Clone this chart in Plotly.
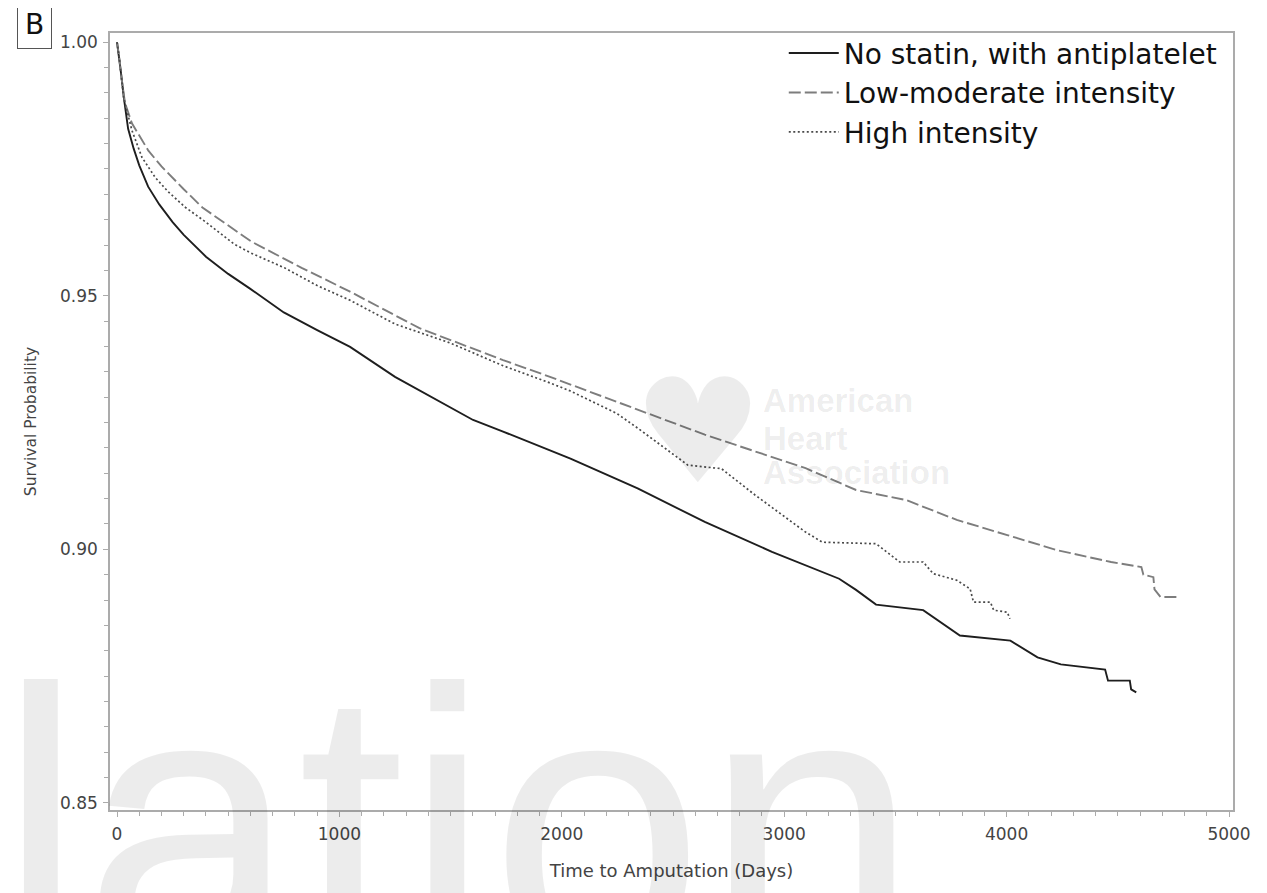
import plotly.graph_objects as go

# ---- data (days, survival probability) ----
no_statin_days = [0, 5, 10, 20, 30, 50, 75, 100, 140, 190, 250, 300, 400, 500, 598, 750, 900,
                  1048, 1250, 1497, 1601, 1736, 2039, 2341, 2643, 2945, 3247, 3323, 3413, 3625,
                  3790, 4017, 4139, 4244, 4443, 4456, 4554, 4560, 4583]
no_statin_surv = [1.0, 0.9985, 0.9972, 0.9932, 0.9893, 0.9829, 0.979, 0.9757, 0.9715, 0.968,
                  0.9645, 0.962, 0.9577, 0.9543, 0.9514, 0.9467, 0.9432, 0.9399, 0.934, 0.9281,
                  0.9255, 0.9232, 0.9179, 0.912, 0.9054, 0.8995, 0.8942, 0.892, 0.8891, 0.888,
                  0.883, 0.882, 0.8787, 0.8773, 0.8763, 0.8741, 0.8741, 0.8724, 0.8718]

lowmod_days = [0, 5, 10, 20, 36, 67, 100, 141, 200, 248, 300, 384, 500, 603, 830, 1048, 1360,
               1497, 1736, 1947, 2189, 2397, 2643, 3096, 3323, 3549, 3776, 4003, 4229, 4470,
               4606, 4615, 4660, 4665, 4692, 4773]
lowmod_surv = [1.0, 0.9986, 0.997, 0.993, 0.988, 0.984, 0.9815, 0.9786, 0.9755, 0.9733, 0.971,
               0.9674, 0.9638, 0.9607, 0.9555, 0.9508, 0.9436, 0.9413, 0.9373, 0.934, 0.93,
               0.9266, 0.9226, 0.916, 0.9117, 0.9097, 0.9058, 0.9028, 0.8998, 0.8975, 0.8965,
               0.895, 0.8945, 0.8921, 0.8906, 0.8906]

high_days = [0, 5, 10, 20, 30, 67, 112, 172, 230, 308, 400, 526, 598, 753, 900, 1048, 1251, 1497,
             1736, 1947, 2039, 2247, 2341, 2567, 2718, 2869, 3096, 3172, 3413, 3519, 3625, 3670,
             3776, 3836, 3851, 3927, 3942, 4003, 4015]
high_surv = [1.0, 0.9986, 0.997, 0.993, 0.989, 0.9826, 0.9773, 0.9733, 0.9705, 0.9674, 0.9645,
             0.9602, 0.9585, 0.9555, 0.952, 0.9491, 0.9444, 0.9407, 0.9362, 0.9328, 0.9312,
             0.9268, 0.9239, 0.9166, 0.9159, 0.9107, 0.9034, 0.9014, 0.9011, 0.8975, 0.8975,
             0.8952, 0.8939, 0.8922, 0.8896, 0.8896, 0.888, 0.8876, 0.8863]

series_names = ["No statin, with antiplatelet", "Low-moderate intensity", "High intensity"]
x_ticks = [0, 1000, 2000, 3000, 4000, 5000]
y_ticks = [0.85, 0.90, 0.95, 1.00]

FONT = "DejaVu Sans"
AXIS_GRAY = "#ababab"
WM = "rgba(0,0,0,0.075)"

fig = go.Figure()
fig.add_trace(go.Scatter(x=no_statin_days, y=no_statin_surv, mode="lines", name=series_names[0],
                         line=dict(color="#1e1e1e", width=1.9)))
fig.add_trace(go.Scatter(x=lowmod_days, y=lowmod_surv, mode="lines", name=series_names[1],
                         line=dict(color="#7d7d7d", width=1.9, dash="12px,4px")))
fig.add_trace(go.Scatter(x=high_days, y=high_surv, mode="lines", name=series_names[2],
                         line=dict(color="#4a4a4a", width=1.7, dash="2px,2.5px")))

axis_common = dict(showline=True, linecolor=AXIS_GRAY, linewidth=1.5, mirror=True,
                   ticks="outside", ticklen=5, tickcolor=AXIS_GRAY, tickwidth=1,
                   showgrid=False, zeroline=False,
                   tickfont=dict(family=FONT, size=17, color="#444444"))

fig.update_xaxes(range=[-31.5, 5018], tickvals=x_ticks, ticktext=[str(v) for v in x_ticks],
                 minor=dict(dtick=100, ticks="outside", ticklen=4, tickcolor=AXIS_GRAY),
                 ticklabelstandoff=3,
                 title=dict(text="Time to Amputation (Days)", font=dict(family=FONT, size=18, color="#444444"),
                            standoff=21),
                 **axis_common)
fig.update_yaxes(range=[0.8486, 1.0018], tickvals=y_ticks, ticktext=[f"{v:.2f}" for v in y_ticks],
                 minor=dict(dtick=0.005, tick0=0.85, ticks="outside", ticklen=4, tickcolor=AXIS_GRAY),
                 ticklabelstandoff=2,
                 title=dict(text="Survival Probability", font=dict(family=FONT, size=15.5, color="#444444"),
                            standoff=20),
                 **axis_common)

annotations = [
    # panel label
    dict(text="B", xref="paper", yref="paper", x=-0.0668, y=1.0110, xanchor="center", yanchor="middle",
         showarrow=False, font=dict(family=FONT, size=28, color="#111111"),
         bordercolor="#555555", borderwidth=1, borderpad=7, bgcolor="white"),
    # watermarks
    dict(text="lation", xref="paper", yref="paper", x=-0.1015, y=0.261, xanchor="left", yanchor="top",
         showarrow=False, font=dict(family="Liberation Sans", size=385, color=WM)),
    dict(text="\u2665", xref="paper", yref="paper", x=0.524, y=0.487, xanchor="center", yanchor="middle",
         showarrow=False, font=dict(family=FONT, size=145, color=WM)),
    dict(text="<b>American</b>", xref="paper", yref="paper", x=0.580, y=0.554,
         xanchor="left", yanchor="top", showarrow=False,
         font=dict(family="Liberation Sans", size=33, color=WM)),
    dict(text="<b>Heart</b>", xref="paper", yref="paper", x=0.580, y=0.505,
         xanchor="left", yanchor="top", showarrow=False,
         font=dict(family="Liberation Sans", size=33, color=WM)),
    dict(text="<b>Association</b>", xref="paper", yref="paper", x=0.580, y=0.461,
         xanchor="left", yanchor="top", showarrow=False,
         font=dict(family="Liberation Sans", size=33, color=WM)),
]

fig.update_layout(
    width=1259, height=885,
    margin=dict(l=102, r=34, t=25, b=83),
    paper_bgcolor="white", plot_bgcolor="white",
    font=dict(family=FONT, color="#222222"),
    showlegend=True,
    legend=dict(x=0.99, y=1.006, xanchor="right", yanchor="top", bgcolor="rgba(0,0,0,0)",
                font=dict(family=FONT, size=28, color="#111111"), itemwidth=50,
                tracegroupgap=0),
    annotations=annotations,
)

fig.write_html("out.html")
